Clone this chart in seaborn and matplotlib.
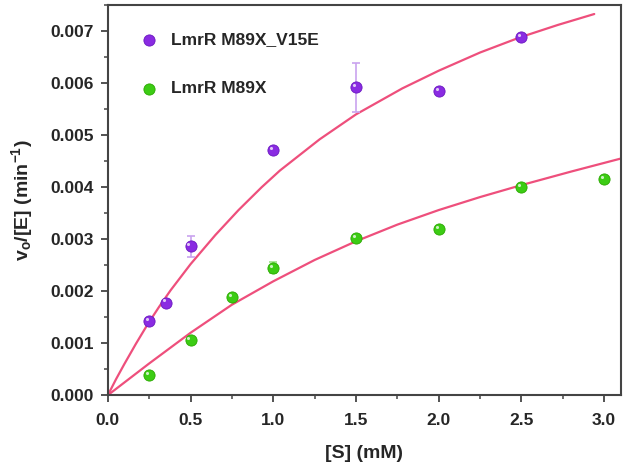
import numpy as np
import pandas as pd
import matplotlib
matplotlib.use('Agg')
import matplotlib.pyplot as plt
import matplotlib.transforms as mtransforms
from matplotlib.ticker import MultipleLocator, FormatStrFormatter
import seaborn as sns

# measured points | titik data
s_v15e = [0.25, 0.35, 0.5, 1.0, 1.5, 2.0, 2.5]
v_v15e = [0.00143, 0.00178, 0.00286, 0.00471, 0.00592, 0.00585, 0.00688]
err_v15e = [0.00005, 0.00004, 0.0002, 0.00003, 0.00047, 0.00006, 0.00004]

s_m89x = [0.25, 0.5, 0.75, 1.0, 1.5, 2.0, 2.5, 3.0]
v_m89x = [0.000385, 0.00106, 0.00189, 0.00245, 0.00302, 0.0032, 0.0040, 0.00415]
err_m89x = [0.00003, 0.00003, 0.00003, 0.00011, 0.00003, 0.00003, 0.00003, 0.00004]

fit_s_v15e = [0.0, 0.05, 0.1, 0.17, 0.24, 0.31, 0.38, 0.5, 0.65, 0.79, 0.93, 1.04,
              1.28, 1.5, 1.78, 2.0, 2.25, 2.49, 2.72, 2.94]
fit_v_v15e = [0.0, 0.00031, 0.0006, 0.00099, 0.00136, 0.0017, 0.00202, 0.00252, 0.00308,
              0.00356, 0.004, 0.00432, 0.00492, 0.0054, 0.0059, 0.00624, 0.00659,
              0.00688, 0.00712, 0.00733]

fit_s_m89x = [0.0, 0.25, 0.5, 0.75, 1.0, 1.25, 1.5, 1.75, 2.0, 2.25, 2.5, 2.8, 3.1]
fit_v_m89x = [0.0, 0.00061, 0.0012, 0.00174, 0.00219, 0.0026, 0.00296, 0.00328, 0.00356,
              0.00381, 0.00404, 0.0043, 0.00455]

pts = pd.concat([
    pd.DataFrame({'S': s_v15e, 'v': v_v15e, 'err': err_v15e, 'enzyme': 'LmrR M89X_V15E'}),
    pd.DataFrame({'S': s_m89x, 'v': v_m89x, 'err': err_m89x, 'enzyme': 'LmrR M89X'}),
])
fits = pd.concat([
    pd.DataFrame({'S': fit_s_v15e, 'v': fit_v_v15e, 'enzyme': 'LmrR M89X_V15E'}),
    pd.DataFrame({'S': fit_s_m89x, 'v': fit_v_m89x, 'enzyme': 'LmrR M89X'}),
])

sns.set_style('white')
plt.rcParams['font.family'] = ['Liberation Sans', 'DejaVu Sans']
plt.rcParams['font.weight'] = 'bold'
plt.rcParams['mathtext.fontset'] = 'custom'
plt.rcParams['mathtext.bf'] = 'Liberation Sans:bold'
plt.rcParams['mathtext.rm'] = 'Liberation Sans:bold'
plt.rcParams['mathtext.default'] = 'bf'

colors = {'LmrR M89X_V15E': '#8a2be2', 'LmrR M89X': '#3ccc14'}
err_colors = {'LmrR M89X_V15E': '#c9a3ef', 'LmrR M89X': '#9de38a'}
edge_colors = {'LmrR M89X_V15E': '#6a18c0', 'LmrR M89X': '#2aa800'}
line_color = '#ee4f7c'

fig = plt.figure(figsize=(6.27, 4.71), dpi=100)
ax = fig.add_axes([0.172, 0.161, 0.818, 0.828])

for name, g in fits.groupby('enzyme', sort=False):
    sns.lineplot(data=g, x='S', y='v', color=line_color, lw=1.6, ax=ax,
                 legend=False, sort=False, estimator=None)

# small shine on the balls, shifted up-left a bit
shine = ax.transData + mtransforms.ScaledTranslation(-1.6 / 72, 1.6 / 72, fig.dpi_scale_trans)

for name, g in pts.groupby('enzyme', sort=False):
    ax.errorbar(g['S'], g['v'], yerr=g['err'], fmt='none', ecolor=err_colors[name],
                elinewidth=1.2, capsize=3, capthick=1.2, zorder=3)
    sns.scatterplot(data=g, x='S', y='v', color=colors[name], s=65,
                    edgecolor=edge_colors[name], linewidth=0.6, ax=ax,
                    label=name, zorder=4)
    ax.scatter(g['S'], g['v'], s=5, color='white', alpha=0.75, linewidths=0,
               transform=shine, zorder=5)

ax.set_xlim(0, 3.1)
ax.set_ylim(0, 0.0075)
ax.xaxis.set_major_locator(MultipleLocator(0.5))
ax.xaxis.set_minor_locator(MultipleLocator(0.25))
ax.yaxis.set_major_locator(MultipleLocator(0.001))
ax.yaxis.set_minor_locator(MultipleLocator(0.0005))
ax.xaxis.set_major_formatter(FormatStrFormatter('%.1f'))
ax.yaxis.set_major_formatter(FormatStrFormatter('%.3f'))
ax.tick_params(which='major', direction='out', length=5, width=1.3, color='#444444',
               labelsize=12.5, bottom=True, left=True, top=False, right=False)
ax.tick_params(axis='x', which='major', pad=8)
ax.tick_params(axis='y', which='major', pad=5)
ax.tick_params(which='minor', direction='out', length=3, width=1.1, color='#444444',
               bottom=True, left=True, top=False, right=False)
for lab in ax.get_xticklabels() + ax.get_yticklabels():
    lab.set_fontweight('bold')

for sp in ax.spines.values():
    sp.set_color('#444444')
    sp.set_linewidth(1.5)

ax.set_xlabel('[S] (mM)', fontsize=14, fontweight='bold', labelpad=12)
ax.set_ylabel(r'v$_o$/[E] (min$^{-1}$)', fontsize=14, fontweight='bold', labelpad=11)

leg = ax.legend(loc='upper left', frameon=False, fontsize=12.5, labelspacing=1.95,
                handletextpad=0.3, borderaxespad=0.6, bbox_to_anchor=(0.012, 0.975))
for t in leg.get_texts():
    t.set_fontweight('bold')

fig.savefig('out.png', dpi=100)
